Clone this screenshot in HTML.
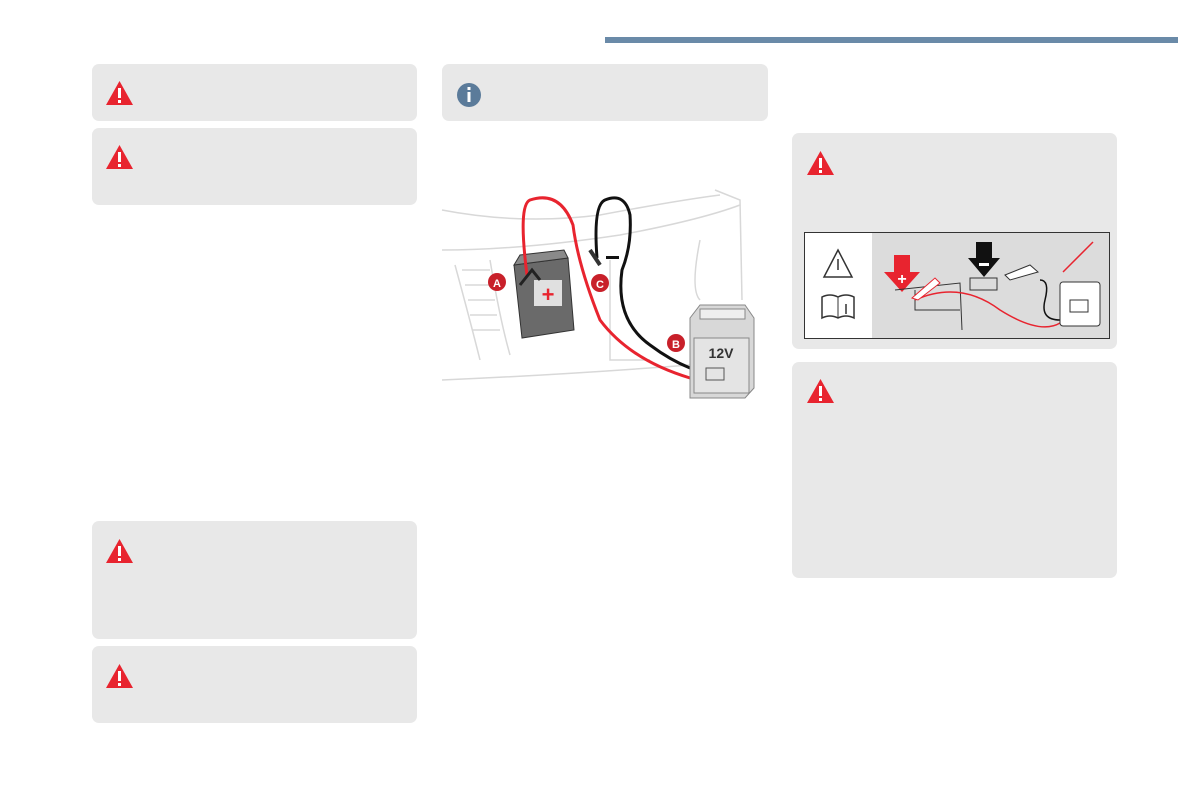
<!DOCTYPE html><html><head><style>
body{margin:0;width:1192px;height:795px;background:#fff;position:relative;overflow:hidden;font-family:"Liberation Sans",sans-serif}
.b{position:absolute;background:#e8e8e8;border-radius:7px}
</style></head><body>
<div style="position:absolute;left:605px;top:37px;width:573px;height:6px;background:#6a8aa8"></div>
<div class="b" style="left:92px;top:64px;width:325px;height:57px"></div>
<div class="b" style="left:92px;top:128px;width:325px;height:77px"></div>
<div class="b" style="left:92px;top:521px;width:325px;height:118px"></div>
<div class="b" style="left:92px;top:646px;width:325px;height:77px"></div>
<div class="b" style="left:442px;top:64px;width:326px;height:57px"></div>
<div class="b" style="left:792px;top:133px;width:325px;height:216px"></div>
<div class="b" style="left:792px;top:362px;width:325px;height:216px"></div>
<svg style="position:absolute;left:0;top:0" width="1192" height="795">
<defs><g id="w"><polygon points="13.5,0 27,24 0,24" fill="#e8242f"/><rect x="12" y="7" width="3" height="10" fill="#fff"/><rect x="12" y="19" width="3" height="3" fill="#fff"/></g></defs>
<use href="#w" x="106" y="81"/><use href="#w" x="106" y="145"/><use href="#w" x="106" y="539"/><use href="#w" x="106" y="664"/><use href="#w" x="807" y="151"/><use href="#w" x="807" y="379"/>
<circle cx="469" cy="95" r="12" fill="#5b7b9a"/><rect x="467.5" y="92" width="3" height="10" fill="#fff"/><rect x="467.5" y="87" width="3" height="3" fill="#fff"/>
<g fill="none" stroke="#d8d8d8" stroke-width="1.5">
<path d="M442 210 Q520 225 600 215 Q680 200 720 195"/>
<path d="M442 250 Q520 250 620 235 Q700 220 740 205"/>
<path d="M442 380 Q560 375 690 365"/>
<path d="M715 190 L740 200 L742 300"/><path d="M700 240 Q690 290 700 300"/>
<path d="M455 265 Q470 320 480 360 M490 260 Q500 320 510 355"/>
<path d="M610 260 L610 360 L650 360"/>
<path d="M462 270 L490 270 M465 285 L492 285 M468 300 L495 300 M470 315 L497 315 M473 330 L500 330"/>
</g>
<g stroke="#333" stroke-width="1"><path d="M514 265 L568 258 L574 330 L522 338 Z" fill="#6a6a6a"/><path d="M514 265 L520 255 L564 250 L568 258Z" fill="#8a8a8a"/><rect x="534" y="280" width="28" height="26" fill="#e0e0e0" stroke="none"/></g>
<text x="548" y="302" font-size="22" font-weight="bold" fill="#e8242f" text-anchor="middle">+</text>
<path d="M527 275 Q518 205 530 200 Q560 190 573 225 Q578 265 600 320 Q630 360 690 378" fill="none" stroke="#e8242f" stroke-width="3"/>
<path d="M597 258 Q593 205 605 200 Q625 192 630 215 Q632 245 622 270 Q615 320 650 345 Q670 360 690 368" fill="none" stroke="#111" stroke-width="3"/>
<path d="M590 250 L600 265" stroke="#333" stroke-width="4"/>
<path d="M520 285 L532 270 L540 280" stroke="#222" stroke-width="3" fill="none"/>
<rect x="606" y="256" width="13" height="3" fill="#111"/>
<circle cx="497" cy="282" r="9" fill="#c8202a"/><text x="497" y="287" font-size="11" font-weight="bold" fill="#fff" text-anchor="middle">A</text>
<circle cx="600" cy="283" r="9" fill="#c8202a"/><text x="600" y="288" font-size="11" font-weight="bold" fill="#fff" text-anchor="middle">C</text>
<circle cx="676" cy="343" r="9" fill="#c8202a"/><text x="676" y="348" font-size="11" font-weight="bold" fill="#fff" text-anchor="middle">B</text>
<path d="M690 318 L700 305 L745 305 L754 318 L754 388 L745 398 L690 398 Z" fill="#d8d8d8" stroke="#888"/>
<rect x="700" y="309" width="45" height="10" fill="#eee" stroke="#888"/>
<rect x="694" y="338" width="55" height="55" fill="#e4e4e4" stroke="#888"/>
<text x="721" y="358" font-size="14" font-weight="bold" fill="#333" text-anchor="middle">12V</text>
<rect x="706" y="368" width="18" height="12" fill="none" stroke="#555"/>
<rect x="804.5" y="232.5" width="305" height="106" fill="#fff" stroke="#333"/>
<rect x="872" y="233" width="237" height="105" fill="#dcdcdc"/>
<polygon points="838,250 852,277 824,277" fill="none" stroke="#333" stroke-width="1.5"/>
<line x1="838" y1="259" x2="838" y2="270" stroke="#333" stroke-width="1.5"/>
<path d="M822 297 Q830 293 838 297 Q846 293 854 297 L854 318 Q846 314 838 318 Q830 314 822 318Z" fill="none" stroke="#333" stroke-width="1.5"/>
<line x1="838" y1="297" x2="838" y2="318" stroke="#333"/><line x1="846" y1="304" x2="846" y2="314" stroke="#333" stroke-width="1.5"/>
<path d="M894 255 L910 255 L910 272 L920 272 L902 292 L884 272 L894 272Z" fill="#e8242f"/>
<text x="902" y="284" font-size="16" font-weight="bold" fill="#fff" text-anchor="middle">+</text>
<path d="M976 242 L992 242 L992 258 L1000 258 L984 277 L968 258 L976 258Z" fill="#111"/>
<rect x="979" y="263" width="10" height="3" fill="#fff"/>
<path d="M895 290 L960 283 L962 330 M915 290 L915 310 L960 310" fill="none" stroke="#333"/>
<path d="M970 278 L997 278 L997 290 L970 290Z" fill="none" stroke="#333"/>
<path d="M915 300 Q960 280 1000 310 Q1040 335 1060 323" fill="none" stroke="#e8242f" stroke-width="1.5"/>
<path d="M1040 280 Q1050 280 1045 300 Q1040 320 1060 320" fill="none" stroke="#111" stroke-width="1.5"/>
<path d="M1005 275 L1030 265 L1038 272 L1010 280Z" fill="#fff" stroke="#333"/>
<path d="M912 298 L935 278 L940 283 L918 300Z" fill="#fff" stroke="#e8242f"/>
<rect x="1060" y="282" width="40" height="44" rx="3" fill="#fff" stroke="#333"/>
<line x1="1063" y1="272" x2="1093" y2="242" stroke="#e8242f" stroke-width="1.5"/>
<rect x="1070" y="300" width="18" height="12" fill="none" stroke="#333"/>
</svg>
</body></html>
